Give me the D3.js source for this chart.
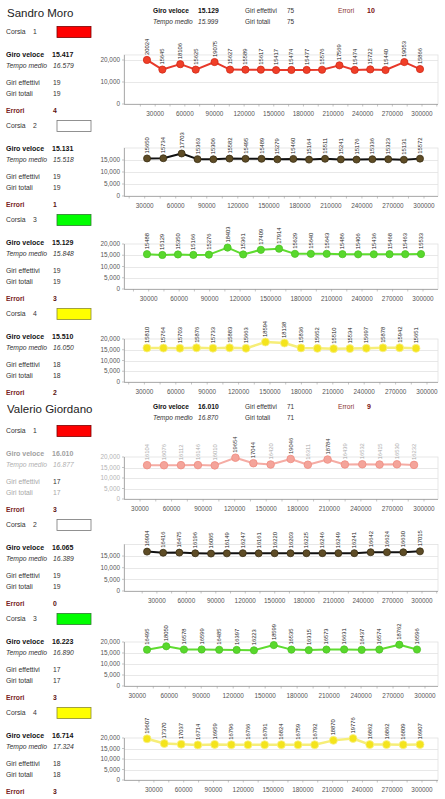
<!DOCTYPE html>
<html><head><meta charset="utf-8">
<script src="https://cdn.jsdelivr.net/npm/d3@7"></script>
<style>
body{margin:0;background:#fff}
svg{display:block}
text{font-family:"Liberation Sans",Arial,sans-serif}
</style>
</head><body>
<svg id="c" width="445" height="799"></svg>
<script>
// ---------------- DATA ----------------
const driverNames = ["Sandro Moro", "Valerio Giordano"];
const driverGiroVeloce = ["15.129", "16.010"];
const driverTempoMedio = ["15.999", "16.870"];
const driverGiriEffettivi = [75, 71];
const driverGiriTotali = [75, 71];
const driverErrori = [10, 9];

const laneNumbers = [1, 2, 3, 4];
const laneGiroVeloce = [["15.417", "15.131", "15.129", "15.510"], ["16.010", "16.065", "16.223", "16.714"]];
const laneTempoMedio = [["16.579", "15.518", "15.848", "16.050"], ["16.877", "16.389", "16.890", "17.324"]];
const laneGiriEffettivi = [[19, 19, 19, 18], [17, 19, 17, 18]];
const laneGiriTotali = [[19, 19, 19, 18], [17, 19, 17, 18]];
const laneErrori = [[4, 1, 3, 2], [3, 0, 3, 3]];

// lap times (ms) shown as data labels
const sandroLane1 = [20024, 15645, 18106, 15625, 19075, 15627, 15589, 15617, 15417, 15474, 15477, 15576, 17569, 15474, 15722, 15440, 19053, 15866];
const sandroLane2 = [15650, 15734, 17703, 15363, 15306, 15582, 15495, 15489, 15279, 15460, 15164, 15511, 15241, 15176, 15336, 15323, 15131, 15572];
const sandroLane3 = [15488, 15129, 15350, 15166, 15276, 18403, 15361, 17409, 17914, 15629, 15640, 15643, 15486, 15406, 15436, 15468, 15463, 15533];
const sandroLane4 = [15810, 15764, 15703, 15876, 15733, 15883, 15663, 18594, 18138, 15836, 15652, 15510, 15534, 15697, 15878, 15942, 15651];
const valerioLane1 = [16104, 16076, 16112, 16146, 16010, 19654, 17044, 16420, 19046, 16311, 18784, 16439, 16532, 16415, 16530, 16232];
const valerioLane2 = [16904, 16416, 16475, 16196, 16065, 16149, 16247, 16161, 16220, 16203, 16225, 16246, 16249, 16241, 16642, 16624, 16630, 17015];
const valerioLane3 = [16495, 18050, 16578, 16599, 16485, 16397, 16223, 18599, 16535, 16315, 16573, 16631, 16437, 16574, 18762, 16596];
const valerioLane4 = [19607, 17370, 17037, 16714, 16959, 16796, 16766, 16791, 16824, 16759, 16792, 18870, 19776, 16862, 16862, 16809, 16907];

// elapsed time before the first plotted lap (ms), estimated
const startOffsets = [1600, 16619, 12831, 16625, 20639, 3055, 22644, 3485];

const xTickLabels = [30000, 60000, 90000, 120000, 150000, 180000, 210000, 240000, 270000, 300000];
const xMinorTicks = [15000, 30000, 45000, 60000, 75000, 90000, 105000, 120000, 135000, 150000, 165000, 180000, 195000, 210000, 225000, 240000, 255000, 270000, 285000, 300000, 315000];
const yTicksA = [0, 10000, 20000];
const yTicksB = [0, 5000, 10000, 15000];
const yTicksC = [0, 5000, 10000, 15000, 20000];

// ---------------- LAYOUT ----------------
const series = [sandroLane1, sandroLane2, sandroLane3, sandroLane4, valerioLane1, valerioLane2, valerioLane3, valerioLane4];
const chartLayout = [
  {xa: 155.2, xb: 422, y0: 104, y20: 60,   top: 22300, ticks: yTicksA, grid: [10000, 20000]},
  {xa: 144.7, xb: 424, y0: 196, y20: 148,  top: 20000, ticks: yTicksB, grid: [5000, 10000, 15000]},
  {xa: 148.7, xb: 423, y0: 289, y20: 244,  top: 20000, ticks: yTicksC, grid: [5000, 10000, 15000]},
  {xa: 144.4, xb: 427, y0: 382, y20: 339,  top: 20000, ticks: yTicksC, grid: [5000, 10000, 15000]},
  {xa: 140,   xb: 424, y0: 499, y20: 457,  top: 20000, ticks: yTicksC, grid: [5000, 10000, 15000]},
  {xa: 156.9, xb: 422, y0: 591, y20: 544.4,top: 20000, ticks: yTicksB, grid: [5000, 10000, 15000]},
  {xa: 137.3, xb: 425, y0: 686, y20: 642,  top: 20000, ticks: yTicksC, grid: [5000, 10000, 15000]},
  {xa: 153.9, xb: 422, y0: 780, y20: 738,  top: 20000, ticks: yTicksC, grid: [5000, 10000, 15000]}
];
const laneStyles = [
  {line: "#e8392a", lw: 2, fill: "#f03f28", stroke: "#d02a18", r: 3.6},
  {line: "#111111", lw: 2, fill: "#5e4c26", stroke: "#3a2e14", r: 3.5},
  {line: "#5fdc30", lw: 2, fill: "#58d82c", stroke: "#4cc425", r: 3.6},
  {line: "#f6ee78", lw: 2.5, fill: "#f4e41c", stroke: "#f8f08c", r: 4}
];
const fadedStyle = {line: "#f5aca4", lw: 2, fill: "#f4a49a", stroke: "#ef8c80", r: 3.8};
const swatchFill = ["#ff0000", "#ffffff", "#00ff00", "#ffff00"];
const swatchStroke = ["#7a0000", "#777777", "#2f7a2f", "#8a8a30"];

const svg = d3.select("#c");
const fmt = d3.format(",");

function txt(g, s, x, y, opt = {}) {
  return g.append("text").attr("x", x).attr("y", y).attr("dy", "0.35em")
    .attr("font-size", opt.size || 6.8)
    .attr("font-weight", opt.bold ? "bold" : "normal")
    .attr("font-style", opt.italic ? "italic" : "normal")
    .attr("fill", opt.color || "#333")
    .attr("text-anchor", opt.anchor || "start")
    .text(s);
}

// ---------------- HEADERS ----------------
const headerY = [12, 408];
driverNames.forEach((name, d) => {
  const g = svg.append("g");
  const y = headerY[d];
  txt(g, name, 7, y + 0.5, {size: 11.5, color: "#222"});
  txt(g, "Giro veloce", 153, y - 1, {size: 6.6, bold: true, color: "#111"});
  txt(g, driverGiroVeloce[d], 198, y - 1, {size: 6.8, bold: true, color: "#111"});
  txt(g, "Tempo medio", 153, y + 10, {size: 6.6, italic: true, color: "#333"});
  txt(g, driverTempoMedio[d], 198, y + 10, {size: 6.6, italic: true, color: "#333"});
  txt(g, "Giri effettivi", 245, y - 1, {size: 6.4, color: "#333"});
  txt(g, driverGiriEffettivi[d], 287, y - 1, {size: 6.4, color: "#333"});
  txt(g, "Giri totali", 245, y + 10, {size: 6.4, color: "#333"});
  txt(g, driverGiriTotali[d], 287, y + 10, {size: 6.4, color: "#333"});
  txt(g, "Errori", 338, y - 1, {size: 6.6, color: "#8a3030"});
  txt(g, driverErrori[d], 367, y - 1, {size: 7, bold: true, color: "#7a1010"});
});

// ---------------- LANE PANELS ----------------
const laneTop = [32, 431];
driverNames.forEach((name, d) => {
  laneNumbers.forEach((n, i) => {
    const g = svg.append("g");
    const cy = laneTop[d] + i * 94;
    const faded = (d === 1 && i === 0);
    const fc = faded ? "#a8a8a8" : "#333";
    txt(g, "Corsia", 6, cy, {color: "#333"});
    txt(g, n, 33, cy, {color: "#333"});
    g.append("rect").attr("x", 57).attr("y", cy - 5.5).attr("width", 34).attr("height", 11)
      .attr("fill", swatchFill[i]).attr("stroke", swatchStroke[i]).attr("stroke-width", 0.8);
    txt(g, "Giro veloce", 6, cy + 23, {bold: true, color: faded ? "#a0a0a0" : "#111", size: 7});
    txt(g, laneGiroVeloce[d][i], 52, cy + 23, {bold: true, color: faded ? "#a0a0a0" : "#111", size: 7});
    txt(g, "Tempo medio", 6, cy + 34, {italic: true, color: faded ? "#b0b0b0" : "#333"});
    txt(g, laneTempoMedio[d][i], 53, cy + 34, {italic: true, color: faded ? "#b0b0b0" : "#333"});
    txt(g, "Giri effettivi", 6, cy + 51, {color: fc});
    txt(g, laneGiriEffettivi[d][i], 53, cy + 51, {color: "#333"});
    txt(g, "Giri totali", 6, cy + 62, {color: fc});
    txt(g, laneGiriTotali[d][i], 53, cy + 62, {color: faded ? "#a8a8a8" : "#333"});
    txt(g, "Errori", 6, cy + 79, {color: "#7a2424", bold: true});
    txt(g, laneErrori[d][i], 53, cy + 79, {color: "#5a1010", bold: true});
  });
});

// ---------------- CHARTS ----------------
const plotLeft = 124, plotRight = 438;
series.forEach((laps, c) => {
  const L = chartLayout[c];
  const faded = c === 4;
  const st = faded ? fadedStyle : laneStyles[c % 4];
  const x = d3.scaleLinear().domain([30000, 300000]).range([L.xa, L.xb]);
  const y = d3.scaleLinear().domain([0, 20000]).range([L.y0, L.y20]);
  const cum = d3.cumsum(laps).map(v => v + startOffsets[c]);
  const g = svg.append("g");
  const top = y(L.top);

  // plot frame + gridlines
  g.append("rect").attr("x", plotLeft).attr("y", top).attr("width", plotRight - plotLeft)
    .attr("height", L.y0 - top).attr("fill", "none").attr("stroke", "#e2e2e2").attr("stroke-width", 0.8);
  g.selectAll(".grid").data(L.grid).join("line")
    .attr("x1", plotLeft).attr("x2", plotRight)
    .attr("y1", v => Math.round(y(v)) + 0.5).attr("y2", v => Math.round(y(v)) + 0.5)
    .attr("stroke", "#e2e2e2").attr("stroke-width", 0.8);

  // axes
  g.append("line").attr("x1", plotLeft + 0.5).attr("x2", plotLeft + 0.5).attr("y1", top).attr("y2", L.y0)
    .attr("stroke", "#a0a0a0").attr("stroke-width", 0.8);
  g.append("line").attr("x1", plotLeft).attr("x2", plotRight).attr("y1", L.y0 + 0.5).attr("y2", L.y0 + 0.5)
    .attr("stroke", "#a0a0a0").attr("stroke-width", 0.8);
  g.selectAll(".yt").data(L.ticks).join("line")
    .attr("x1", plotLeft - 2).attr("x2", plotLeft)
    .attr("y1", v => y(v)).attr("y2", v => y(v)).attr("stroke", "#a0a0a0").attr("stroke-width", 0.6);
  g.selectAll(".xt").data(xMinorTicks.filter(v => x(v) > plotLeft + 1 && x(v) < plotRight)).join("line")
    .attr("x1", v => x(v)).attr("x2", v => x(v))
    .attr("y1", L.y0).attr("y2", L.y0 + 2.5).attr("stroke", "#a0a0a0").attr("stroke-width", 0.6);

  g.selectAll(".yl").data(L.ticks).join("text")
    .attr("x", plotLeft - 4).attr("y", v => y(v)).attr("dy", "0.35em")
    .attr("text-anchor", "end").attr("font-size", 6.4)
    .attr("fill", faded ? "#b4b4b4" : "#555").text(v => fmt(v));
  g.selectAll(".xl").data(xTickLabels).join("text")
    .attr("x", v => x(v)).attr("y", L.y0 + 9.5).attr("dy", "0.35em")
    .attr("text-anchor", "middle").attr("font-size", 6.4).attr("fill", "#555").text(v => v);

  // line
  const line = d3.line().x((d, i) => x(cum[i])).y(d => y(d));
  g.append("path").datum(laps).attr("d", line).attr("fill", "none")
    .attr("stroke", st.line).attr("stroke-width", st.lw).attr("stroke-linejoin", "round");

  // markers
  g.selectAll(".m").data(laps).join("circle")
    .attr("cx", (d, i) => x(cum[i])).attr("cy", d => y(d)).attr("r", st.r)
    .attr("fill", st.fill).attr("stroke", st.stroke).attr("stroke-width", 0.8);

  // data labels
  g.selectAll(".dl").data(laps).join("text")
    .attr("transform", (d, i) => `translate(${x(cum[i])},${y(d) - 5}) rotate(-90)`)
    .attr("dy", "0.35em").attr("font-size", 5.8)
    .attr("fill", d => faded ? (d > 17000 ? "#333" : "#aaaaaa") : "#222")
    .text(d => d);
});
</script>
</body></html>
